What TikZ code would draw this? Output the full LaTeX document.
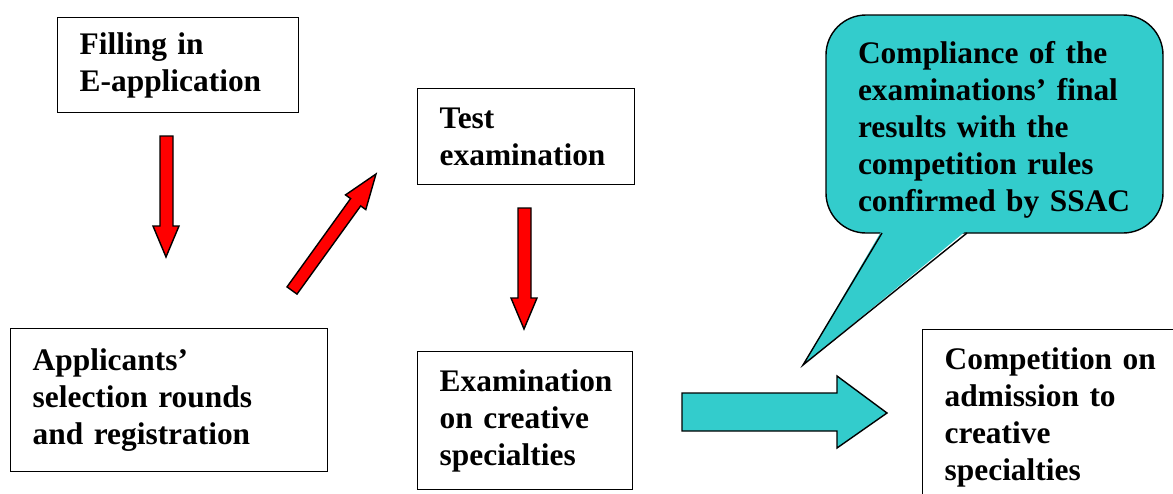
\documentclass[tikz,border=0pt]{standalone}
\usepackage{fontspec}
\setmainfont{Liberation Serif}
\definecolor{tealfill}{HTML}{33CCCC}
\definecolor{redfill}{HTML}{FF0000}
\begin{document}
\begin{tikzpicture}[x=1pt,y=-1pt,
  txt/.style={font=\bfseries\fontsize{31.4}{37}\selectfont},
  boxnode/.style={txt,draw=black,line width=1.4pt,fill=white,align=left,inner xsep=22pt,inner ysep=0pt,anchor=north west},
  redarrow/.style={fill=redfill,draw=black,line width=1.4pt,line join=miter},
  tealarrow/.style={fill=tealfill,draw=black,line width=1.4pt,line join=miter}]
\useasboundingbox (0,0) rectangle (1173,493);
\clip (0,0) rectangle (1173,493);
% boxes
\node[boxnode,minimum width=241pt,minimum height=95pt,text width=197pt] (fill) at (57,17) {Filling in\\E-application};
\node[boxnode,minimum width=217pt,minimum height=96pt,text width=173pt] (test) at (417,88) {Test\\examination};
\node[boxnode,minimum width=317pt,minimum height=143pt,text width=273pt] (appl) at (10,328) {Applicants’\\selection rounds\\and registration};
\node[boxnode,minimum width=215pt,minimum height=138pt,text width=171pt] (exam) at (417,351) {Examination\\on creative\\specialties};
\node[boxnode,minimum width=270pt,minimum height=176pt,text width=226pt] (comp) at (922,329) {Competition on\\admission to\\creative\\specialties};
% callout
\coordinate (ptip) at (803,365);
\fill[tealfill,draw=black,line width=1.4pt,rounded corners=40pt] (826,15) rectangle (1163,233);
\fill[tealfill] (882,230) -- (ptip) -- (967,230) -- cycle;
\draw[black,line width=1.4pt,line join=miter] (882,233) -- (ptip) -- (967,233);
\node[txt,text width=300pt,align=left,inner sep=0pt] (callout) at (1008,130) {Compliance of the\\examinations’ final\\results with the\\competition rules\\confirmed by SSAC};
% red arrows
\draw[redarrow] (160,136) -- (173,136) -- (173,226) -- (179,226) -- (166,257) -- (153,226) -- (160,226) -- cycle;
\draw[redarrow] (287.0,286.9) -- (350.6,198.6) -- (345.5,194.9) -- (376,174) -- (365.8,209.6) -- (360.7,205.9) -- (297.0,294.1) -- cycle;
\draw[redarrow] (518,208) -- (531,208) -- (531,298) -- (537,298) -- (524,329) -- (511,298) -- (518,298) -- cycle;
% teal arrow
\draw[tealarrow] (682,393) -- (837,393) -- (837,376) -- (887,413) -- (837,448) -- (837,431) -- (682,431) -- cycle;
\end{tikzpicture}
\end{document}
